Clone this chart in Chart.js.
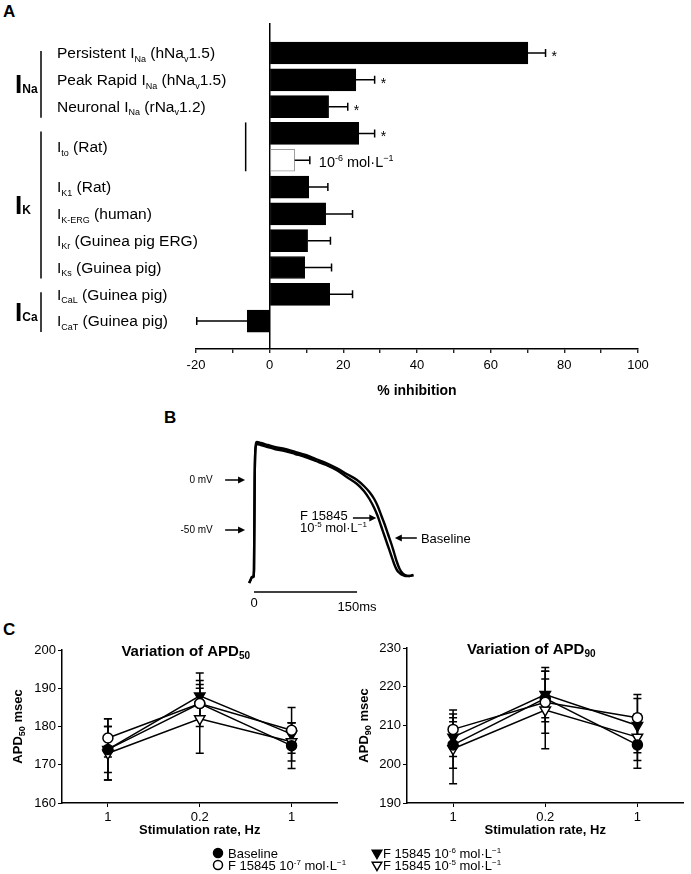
<!DOCTYPE html>
<html>
<head>
<meta charset="utf-8">
<script src="https://cdn.jsdelivr.net/npm/chart.js@4.4.1/dist/chart.umd.min.js"></script>
<style>
  body { margin: 0; background: #fff; width: 691px; height: 874px; position: relative; overflow: hidden;
         font-family: 'Liberation Sans', Arial, Helvetica, sans-serif; color: #000; }
  canvas { position: absolute; }
  .panel { position: absolute; font-weight: bold; font-size: 17px; line-height: 1; }
</style>
</head>
<body>
<div class="panel" style="left:3px;top:3px">A</div>
<div class="panel" style="left:164px;top:409px">B</div>
<div class="panel" style="left:3px;top:621px">C</div>
<canvas id="chartA" width="691" height="410" style="left:0;top:0"></canvas>
<canvas id="chartB" width="330" height="220" style="left:160px;top:400px"></canvas>
<canvas id="chartC50" width="345" height="235" style="left:0;top:620px"></canvas>
<canvas id="chartC90" width="346" height="235" style="left:345px;top:620px"></canvas>
<canvas id="legendC" width="400" height="34" style="left:200px;top:840px"></canvas>
<script>
const FONT = "'Liberation Sans', Arial, Helvetica, sans-serif";

// Panel A: % inhibition of each current
const currentLabels = [
  'Persistent I_{Na} (hNa_{v}1.5)',
  'Peak Rapid I_{Na} (hNa_{v}1.5)',
  'Neuronal I_{Na} (rNa_{v}1.2)',
  'I_{to} (Rat)',
  '',
  'I_{K1} (Rat)',
  'I_{K-ERG} (human)',
  'I_{Kr} (Guinea pig ERG)',
  'I_{Ks} (Guinea pig)',
  'I_{CaL} (Guinea pig)',
  'I_{CaT} (Guinea pig)'
];
const inhibition = [70.1, 23.4, 16.0, 24.2, 6.8, 10.6, 15.2, 10.3, 9.5, 16.3, -6.1];
const inhibitionSem = [4.8, 5.1, 5.2, 4.3, 4.1, 5.2, 7.3, 6.2, 7.3, 6.2, 13.7];
const significant = [true, true, true, true, false, false, false, false, false, false, false];
const lowDoseBar = 4;
const lowDoseLabel = '10^{-6} mol·L^{−1}';
const currentGroups = [['I_{Na}', 0, 2], ['I_{K}', 3, 8], ['I_{Ca}', 9, 10]];

// Panel B: action potential traces (ms, mV)
const traceTime = [-7, -5, -3, -1, 0, 1, 2, 4, 10, 20, 30, 45, 60, 75, 90, 105, 120, 135, 150,
                   160, 168, 175, 180, 185, 190, 195, 200, 204, 208, 212, 216, 220, 226, 232];
const traceBaseline = [-103, -100, -97, -97, -90, 0, 30, 38, 37, 35, 33, 31, 28, 25, 21, 17, 12, 6, 0,
                       -6, -12, -19, -26, -35, -44, -54, -64, -73, -82, -89, -93, -95, -96, -95];
const traceDrug = [-103, -100, -97, -97, -90, 0, 30, 36, 35, 33, 31, 29, 26, 23, 19, 15, 10, 3, -4,
                   -11, -19, -28, -36, -46, -56, -66, -76, -84, -90, -93, -95, -96, -96, -95];

// Panel C: APD vs stimulation rate
const rateLabels = ['1', '0.2', '1'];
const seriesNames = ['Baseline', 'F 15845 10^{-7} mol·L^{−1}', 'F 15845 10^{-6} mol·L^{−1}', 'F 15845 10^{-5} mol·L^{−1}'];
const apd50Baseline = [174, 186, 175];
const apd50Dose7 = [177, 186, 179];
const apd50Dose6 = [174, 188, 178];
const apd50Dose5 = [173, 182, 176];
const apd50SemBaseline = [6, 4, 6];
const apd50SemDose7 = [5, 6, 6];
const apd50SemDose6 = [8, 6, 3];
const apd50SemDose5 = [7, 9, 5];
const apd90Baseline = [205, 217, 205];
const apd90Dose7 = [209, 216, 212];
const apd90Dose6 = [207, 218, 210];
const apd90Dose5 = [204, 214, 207];
const apd90SemBaseline = [6, 5, 6];
const apd90SemDose7 = [5, 8, 6];
const apd90SemDose6 = [5, 7, 7];
const apd90SemDose5 = [9, 10, 6];

const markerStyles = [
  { pointStyle: 'circle', radius: 5, rotation: 0, fill: '#000', order: 1 },
  { pointStyle: 'circle', radius: 5, rotation: 0, fill: '#fff', order: 0 },
  { pointStyle: 'triangle', radius: 6, rotation: 180, fill: '#000', order: 3 },
  { pointStyle: 'triangle', radius: 6, rotation: 180, fill: '#fff', order: 2 }
];

Chart.defaults.font.family = FONT;
Chart.defaults.color = '#000';

// text with _{sub} and ^{sup} parts
function richParts(s) {
  const out = [];
  const re = /([_^])\{([^}]*)\}/g;
  let last = 0, m;
  while ((m = re.exec(s))) {
    if (m.index > last) out.push([s.slice(last, m.index), '']);
    out.push([m[2], m[1] === '_' ? 'sub' : 'sup']);
    last = re.lastIndex;
  }
  if (last < s.length) out.push([s.slice(last), '']);
  return out;
}

function drawRich(ctx, s, x, y, opt) {
  const size = opt.size || 13;
  const small = opt.small || Math.round(size * 0.62);
  const weight = opt.bold ? 'bold ' : '';
  const subDy = opt.subDy != null ? opt.subDy : size * 0.25;
  const supDy = opt.supDy != null ? opt.supDy : -size * 0.4;
  const parts = richParts(s);
  const widths = parts.map(p => {
    ctx.font = weight + (p[1] ? small : size) + 'px ' + FONT;
    return ctx.measureText(p[0]).width;
  });
  const total = widths.reduce((a, b) => a + b, 0);
  let cx = opt.align === 'center' ? x - total / 2 : (opt.align === 'right' ? x - total : x);
  ctx.textAlign = 'left';
  ctx.textBaseline = 'alphabetic';
  ctx.fillStyle = '#000';
  parts.forEach((p, i) => {
    ctx.font = weight + (p[1] ? small : size) + 'px ' + FONT;
    const dy = p[1] === 'sub' ? subDy : (p[1] === 'sup' ? supDy : 0);
    ctx.fillText(p[0], cx, y + dy);
    cx += widths[i];
  });
}

function arrow(ctx, x0, y0, x1, y1) {
  const dir = Math.sign(x1 - x0);
  ctx.beginPath();
  ctx.moveTo(x0, y0);
  ctx.lineTo(x1 - dir * 5, y1);
  ctx.stroke();
  ctx.beginPath();
  ctx.moveTo(x1, y1);
  ctx.lineTo(x1 - dir * 7, y1 - 3.5);
  ctx.lineTo(x1 - dir * 7, y1 + 3.5);
  ctx.closePath();
  ctx.fill();
}

// ---------- Panel A ----------
const panelADecor = {
  id: 'panelADecor',
  afterDatasetsDraw(chart) {
    const { ctx, scales: { x, y } } = chart;
    ctx.save();
    ctx.strokeStyle = '#000';
    ctx.fillStyle = '#000';
    ctx.lineWidth = 1.5;
    inhibition.forEach((v, i) => {
      const cy = y.getPixelForValue(i + 1);
      const end = v >= 0 ? v + inhibitionSem[i] : v - inhibitionSem[i];
      const x0 = x.getPixelForValue(v), x1 = x.getPixelForValue(end);
      ctx.beginPath();
      ctx.moveTo(x0, cy); ctx.lineTo(x1, cy);
      ctx.moveTo(x1, cy - 4); ctx.lineTo(x1, cy + 4);
      ctx.stroke();
      if (significant[i]) {
        ctx.font = '14px ' + FONT;
        ctx.textAlign = 'left';
        ctx.fillText('*', x1 + 6, cy + 8);
      }
      if (i === lowDoseBar) {
        drawRich(ctx, lowDoseLabel, x1 + 9, cy + 7, { size: 14.5, small: 9, supDy: -6 });
      }
      const label = currentLabels[i];
      if (label) {
        const ly = currentLabels[i + 1] === '' ? (cy + y.getPixelForValue(i + 2)) / 2 : cy;
        drawRich(ctx, label, 57, ly + 5.3, { size: 15.5, small: 9, subDy: 3.5 });
      }
    });
    // bracket pairing the two I_to bars
    const bx = x.getPixelForValue(0) - 24;
    ctx.beginPath();
    ctx.moveTo(bx, y.getPixelForValue(lowDoseBar) - 11);
    ctx.lineTo(bx, y.getPixelForValue(lowDoseBar + 1) + 11);
    ctx.stroke();
    // current family brackets
    currentGroups.forEach(([name, from, to]) => {
      const top = y.getPixelForValue(from + 1) - 2;
      const bot = y.getPixelForValue(to + 1) + 11;
      ctx.beginPath();
      ctx.moveTo(41, top); ctx.lineTo(41, bot);
      ctx.stroke();
      drawRich(ctx, name, 15, (top + bot) / 2 + 9, { size: 26, small: 12, bold: true, subDy: 0 });
    });
    ctx.restore();
  }
};

new Chart(document.getElementById('chartA'), {
  type: 'bar',
  data: {
    datasets: [{
      data: inhibition.map((v, i) => ({ x: v, y: i + 1 })),
      backgroundColor: inhibition.map((v, i) => i === lowDoseBar ? '#fff' : '#000'),
      borderColor: inhibition.map((v, i) => i === lowDoseBar ? '#9a9a9a' : '#000'),
      borderWidth: 1,
      borderSkipped: false,
      barThickness: 22
    }]
  },
  options: {
    indexAxis: 'y',
    responsive: false,
    animation: false,
    devicePixelRatio: 1,
    layout: { padding: { left: 196, right: 53, top: 23, bottom: 0 } },
    plugins: { legend: { display: false }, tooltip: { enabled: false } },
    scales: {
      x: {
        type: 'linear', min: -20, max: 100,
        ticks: { stepSize: 10, autoSkip: false, maxRotation: 0, padding: 5,
                 font: { size: 13 }, color: '#000',
                 callback: v => (v % 20 === 0 ? v : '') },
        grid: { color: c => (c.tick && c.tick.value === 0 ? '#000' : 'rgba(0,0,0,0)'),
                lineWidth: 1.5, tickColor: '#000', tickLength: 4, tickWidth: 1.2 },
        border: { color: '#000', width: 1.5 },
        title: { display: true, text: '% inhibition', color: '#000',
                 font: { size: 14, weight: 'bold' }, padding: { top: 0, bottom: 10 } },
        afterFit: s => { s.height = 61; }
      },
      y: { type: 'linear', min: -0.12, max: 12.04, reverse: true, offset: false, display: false }
    }
  },
  plugins: [panelADecor]
});

// ---------- Panel B ----------
const panelBDecor = {
  id: 'panelBDecor',
  afterDraw(chart) {
    const { ctx, scales: { x, y } } = chart;
    ctx.save();
    ctx.strokeStyle = '#000';
    ctx.fillStyle = '#000';
    ctx.lineWidth = 1.5;
    [[0, '0 mV'], [-50, '-50 mV']].forEach(([mv, txt]) => {
      const py = y.getPixelForValue(mv);
      arrow(ctx, x.getPixelForValue(-42), py, x.getPixelForValue(-13), py);
      ctx.font = '10px ' + FONT;
      ctx.textAlign = 'right';
      ctx.textBaseline = 'middle';
      ctx.fillText(txt, x.getPixelForValue(-60), py);
    });
    // time scale bar
    const sy = y.getPixelForValue(-112);
    ctx.beginPath();
    ctx.moveTo(x.getPixelForValue(0), sy);
    ctx.lineTo(x.getPixelForValue(150), sy);
    ctx.stroke();
    ctx.font = '13px ' + FONT;
    ctx.textAlign = 'center';
    ctx.textBaseline = 'alphabetic';
    ctx.fillText('0', x.getPixelForValue(0), sy + 15);
    ctx.fillText('150ms', x.getPixelForValue(150), sy + 19);
    // annotations
    drawRich(ctx, 'F 15845', x.getPixelForValue(67), y.getPixelForValue(-40), { size: 13 });
    drawRich(ctx, '10^{-5} mol·L^{−1}', x.getPixelForValue(67), y.getPixelForValue(-52), { size: 13, small: 8, supDy: -5 });
    arrow(ctx, x.getPixelForValue(144), y.getPixelForValue(-38), x.getPixelForValue(178), y.getPixelForValue(-38));
    arrow(ctx, x.getPixelForValue(237), y.getPixelForValue(-58), x.getPixelForValue(205), y.getPixelForValue(-58));
    drawRich(ctx, 'Baseline', x.getPixelForValue(243), y.getPixelForValue(-63), { size: 13 });
    ctx.restore();
  }
};

new Chart(document.getElementById('chartB'), {
  type: 'line',
  data: {
    datasets: [
      { data: traceTime.map((t, i) => ({ x: t, y: traceBaseline[i] })), borderColor: '#000',
        borderWidth: 2.4, pointRadius: 0, cubicInterpolationMode: 'monotone' },
      { data: traceTime.map((t, i) => ({ x: t, y: traceDrug[i] })), borderColor: '#000',
        borderWidth: 2.4, pointRadius: 0, cubicInterpolationMode: 'monotone' }
    ]
  },
  options: {
    responsive: false,
    animation: false,
    devicePixelRatio: 1,
    layout: { padding: 0 },
    plugins: { legend: { display: false }, tooltip: { enabled: false } },
    scales: {
      x: { type: 'linear', display: false, min: -136.8, max: 343.5 },
      y: { type: 'linear', display: false, min: -140, max: 80 }
    }
  },
  plugins: [panelBDecor]
});

// ---------- Panel C ----------
const errorBars = {
  id: 'errorBars',
  beforeDatasetsDraw(chart) {
    const { ctx, scales: { x, y } } = chart;
    ctx.save();
    ctx.strokeStyle = '#000';
    ctx.lineWidth = 1.5;
    chart.data.datasets.forEach(ds => {
      ds.data.forEach((v, i) => {
        const px = x.getPixelForValue(i);
        const top = y.getPixelForValue(v + ds.errors[i]);
        const bot = y.getPixelForValue(v - ds.errors[i]);
        ctx.beginPath();
        ctx.moveTo(px, top); ctx.lineTo(px, bot);
        ctx.moveTo(px - 4, top); ctx.lineTo(px + 4, top);
        ctx.moveTo(px - 4, bot); ctx.lineTo(px + 4, bot);
        ctx.stroke();
      });
    });
    ctx.restore();
  }
};

function apdDecor(title, yTitle, yTitleX) {
  return {
    id: 'apdDecor',
    afterDraw(chart) {
      const { ctx, chartArea: a } = chart;
      ctx.save();
      drawRich(ctx, title, (a.left + a.right) / 2 - 14, a.top + 6,
               { size: 15, small: 10, bold: true, subDy: 3, align: 'center' });
      ctx.translate(yTitleX, (a.top + a.bottom) / 2);
      ctx.rotate(-Math.PI / 2);
      drawRich(ctx, yTitle, 0, 5, { size: 13, small: 9, bold: true, subDy: 3, align: 'center' });
      ctx.restore();
    }
  };
}

function apdChart(id, values, sems, min, max, top, padRight, title, yTitle, yTitleX) {
  return new Chart(document.getElementById(id), {
    type: 'line',
    data: {
      labels: rateLabels,
      datasets: values.map((vals, k) => ({
        data: vals,
        errors: sems[k],
        order: markerStyles[k].order,
        borderColor: '#000',
        borderWidth: 1.5,
        pointStyle: markerStyles[k].pointStyle,
        pointRadius: markerStyles[k].radius,
        pointRotation: markerStyles[k].rotation,
        pointBackgroundColor: markerStyles[k].fill,
        pointBorderColor: '#000',
        pointBorderWidth: 1.5
      }))
    },
    options: {
      responsive: false,
      animation: false,
      devicePixelRatio: 1,
      layout: { padding: { left: 0, top: top, right: padRight, bottom: 0 } },
      plugins: { legend: { display: false }, tooltip: { enabled: false } },
      scales: {
        x: {
          offset: true,
          ticks: { font: { size: 13 }, color: '#000', padding: 3 },
          grid: { drawOnChartArea: false, tickColor: '#000', tickLength: 4 },
          border: { color: '#000', width: 1.5 },
          title: { display: true, text: 'Stimulation rate, Hz', color: '#000',
                   font: { size: 13, weight: 'bold' }, padding: { top: 0, bottom: 17 } },
          afterFit: s => { s.height = 52; }
        },
        y: {
          min: min, max: max,
          ticks: { stepSize: 10, font: { size: 13 }, color: '#000', padding: 2 },
          grid: { drawOnChartArea: false, tickColor: '#000', tickLength: 4 },
          border: { color: '#000', width: 1.5 },
          afterFit: s => { s.width = 62; }
        }
      }
    },
    plugins: [errorBars, apdDecor(title, yTitle, yTitleX)]
  });
}

apdChart('chartC50',
  [apd50Baseline, apd50Dose7, apd50Dose6, apd50Dose5],
  [apd50SemBaseline, apd50SemDose7, apd50SemDose6, apd50SemDose5],
  160, 200, 30, 2, 'Variation of APD_{50}', 'APD_{50} msec', 17);

apdChart('chartC90',
  [apd90Baseline, apd90Dose7, apd90Dose6, apd90Dose5],
  [apd90SemBaseline, apd90SemDose7, apd90SemDose6, apd90SemDose5],
  190, 230, 28, 3, 'Variation of APD_{90}', 'APD_{90} msec', 18);

// legend shared by both APD charts
(function drawLegend() {
  const ctx = document.getElementById('legendC').getContext('2d');
  const cols = [18, 177];
  const rows = [13, 25];
  const slots = [[0, 0], [0, 1], [1, 0], [1, 1]];
  seriesNames.forEach((name, k) => {
    const mx = cols[slots[k][0]], my = rows[slots[k][1]];
    const m = markerStyles[k];
    ctx.fillStyle = m.fill;
    ctx.strokeStyle = '#000';
    ctx.lineWidth = 1.5;
    Chart.helpers.drawPoint(ctx, { pointStyle: m.pointStyle, rotation: m.rotation,
                                   radius: m.radius - 0.5, borderWidth: 1.5 }, mx, my);
    drawRich(ctx, name, mx + (m.pointStyle === 'triangle' ? 6 : 10), my + 4.5,
             { size: 13, small: 8, supDy: -5 });
  });
})();
</script>
</body>
</html>
